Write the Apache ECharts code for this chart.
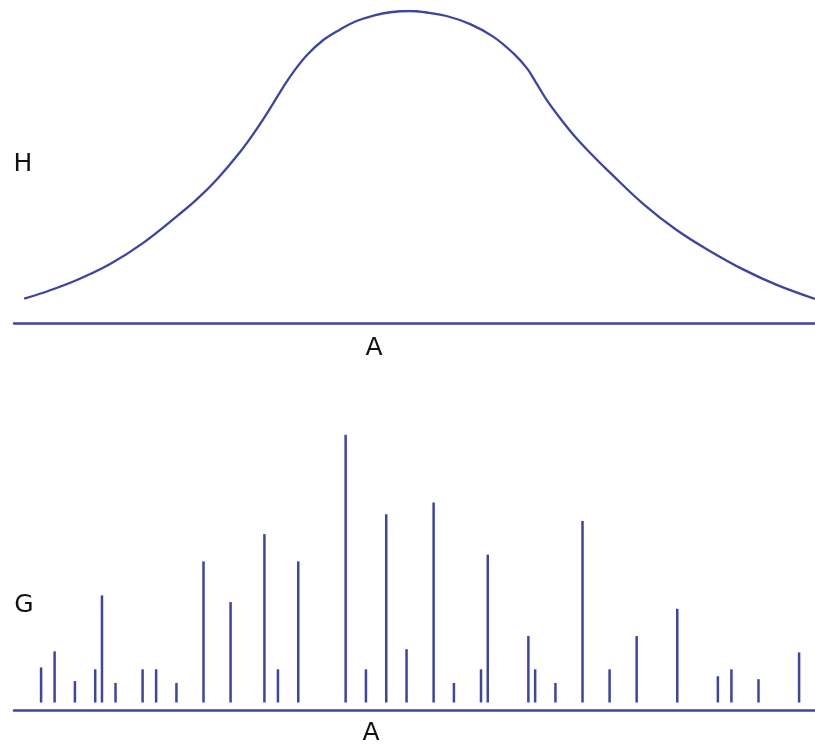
<!DOCTYPE html>
<html>
<head>
<meta charset="utf-8">
<script src="https://cdn.jsdelivr.net/npm/echarts@6/dist/echarts.min.js"></script>
<style>
  html, body { margin: 0; padding: 0; background: #ffffff; }
  #chart { width: 815px; height: 744px; }
</style>
</head>
<body>
<div id="chart"></div>
<script>
// Upper panel: broad band profile H(A)
const curveA = [1.5, 4.3, 9.3, 14.2, 19.1, 24.0, 27.0, 30.0, 33.4, 35.9, 38.3, 39.8, 41.3,
  43.3, 45.7, 48.2, 50.6, 53.1, 55.6, 58.5, 60.7, 63.9, 67.4, 70.8, 73.8, 75.8, 77.2,
  78.7, 80.7, 83.1, 85.9, 88.1, 93.0, 97.9, 102.8, 107.8, 112.7, 118.35];
const curveH = [7.8, 9.7, 13.8, 18.9, 25.7, 34.1, 39.6, 46.1, 54.8, 62.3, 70.4, 75.7, 80.5,
  85.9, 90.7, 94.1, 96.8, 98.5, 99.6, 100, 99.6, 98.4, 95.8, 91.8, 86.4, 81.6, 76.8,
  71.5, 65.6, 59.2, 52.8, 48.1, 38.1, 29.8, 23.1, 17.1, 12.2, 7.7];

// Lower panel: stick spectrum G(A)
const stickA = [4, 6, 9, 12, 13, 15, 19, 21, 24, 28, 32, 37, 39, 42, 49, 52, 55, 58, 62,
  65, 69, 70, 76, 77, 80, 84, 88, 92, 98, 104, 106, 110, 116];
const stickG = [13.1, 19.1, 8.0, 12.4, 40.0, 7.3, 12.4, 12.4, 7.3, 52.7, 37.5, 62.9, 12.4,
  52.7, 100, 12.4, 70.3, 19.9, 74.7, 7.3, 12.4, 55.2, 24.8, 12.4, 7.3, 67.8, 12.4, 24.8,
  35.0, 9.8, 12.4, 8.7, 18.7];

// Panel labels
const labels = [
  { text: 'H', x: 23, y: 164 },
  { text: 'A', x: 374, y: 348 },
  { text: 'G', x: 24, y: 605 },
  { text: 'A', x: 371, y: 733 }
];

const ink = '#3c45a0';
const A_MAX = 118.35;

const chart = echarts.init(document.getElementById('chart'), null, { renderer: 'canvas' });

const hiddenY = {
  show: false,
  splitLine: { show: false }
};
const baseX = {
  type: 'value',
  min: 0,
  max: A_MAX,
  axisLine: { show: true, onZero: false, lineStyle: { color: ink, width: 2.5 } },
  axisTick: { show: false },
  axisLabel: { show: false },
  splitLine: { show: false }
};

chart.setOption({
  animation: false,
  backgroundColor: '#ffffff',
  grid: [
    { left: 14, right: 0, top: 11, height: 312 },
    { left: 14, right: 0, top: 434.7, height: 275.3 }
  ],
  xAxis: [
    Object.assign({ gridIndex: 0 }, baseX),
    Object.assign({ gridIndex: 1 }, baseX)
  ],
  yAxis: [
    Object.assign({ gridIndex: 0, type: 'value', min: 0, max: 100 }, hiddenY),
    Object.assign({ gridIndex: 1, type: 'value', min: -2.8, max: 100 }, hiddenY)
  ],
  graphic: labels.map(l => ({
    type: 'text',
    x: l.x,
    y: l.y,
    style: {
      text: l.text,
      fontFamily: 'DejaVu Sans',
      fontSize: 25,
      fill: '#111111',
      textAlign: 'center',
      textVerticalAlign: 'middle'
    }
  })),
  series: [
    {
      type: 'line',
      xAxisIndex: 0,
      yAxisIndex: 0,
      data: curveA.map((a, i) => [a, curveH[i]]),
      smooth: 0.4,
      showSymbol: false,
      lineStyle: { color: ink, width: 2.3 }
    },
    {
      type: 'custom',
      xAxisIndex: 1,
      yAxisIndex: 1,
      data: stickA.map((a, i) => [a, stickG[i]]),
      renderItem: function (params, api) {
        const base = api.coord([api.value(0), 0]);
        const tip = api.coord([api.value(0), api.value(1)]);
        return {
          type: 'line',
          shape: { x1: base[0], y1: base[1], x2: tip[0], y2: tip[1] },
          style: { stroke: ink, lineWidth: 2.5 }
        };
      }
    }
  ]
});
</script>
</body>
</html>
